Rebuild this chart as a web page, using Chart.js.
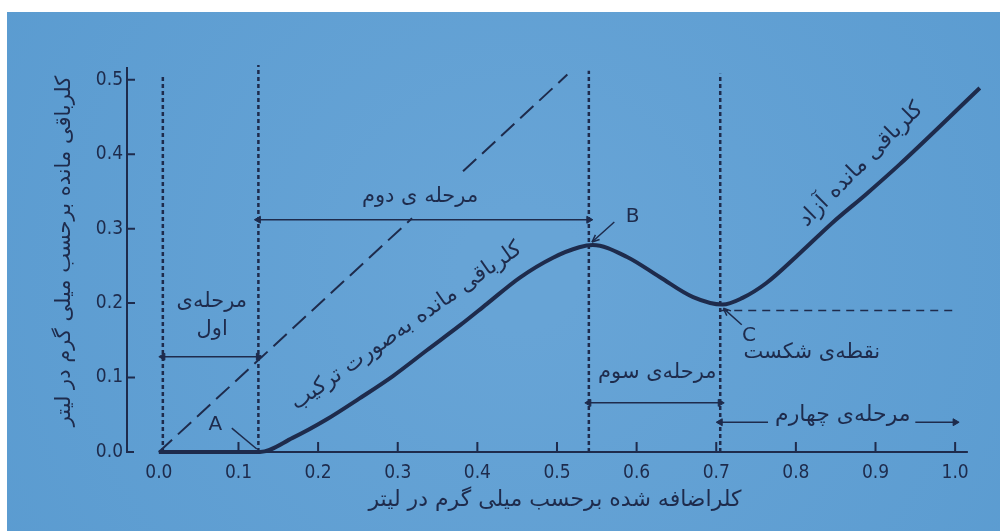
<!DOCTYPE html>
<html lang="fa">
<head>
<meta charset="utf-8">
<title>منحنی نقطه شکست کلرزنی</title>
<script src="https://cdn.jsdelivr.net/npm/chart.js@4.4.1/dist/chart.umd.min.js"></script>
<style>
    html, body { margin: 0; padding: 0; background: #fff; }
</style>
</head>
<body>
<canvas id="breakpointChart" width="1000" height="531"></canvas>
<script>
// chlorine dose (mg/l) and residual
const chlorineAdded = [0, 0.127, 0.168, 0.211, 0.252, 0.294, 0.337, 0.378, 0.412, 0.453, 0.495, 0.528, 0.545, 0.588, 0.629, 0.671, 0.708, 0.733, 0.763, 0.805, 0.846, 0.889, 0.930, 1.031];
const residualChlorine = [0, 0, 0.019, 0.044, 0.072, 0.102, 0.137, 0.170, 0.199, 0.234, 0.261, 0.275, 0.278, 0.262, 0.235, 0.208, 0.198, 0.207, 0.227, 0.267, 0.308, 0.347, 0.386, 0.489];

// dashed "no demand" line (residual = added), broken under the stage 2 label
const demandX = [0, 0.318, 0.35, 0.382, 0.513];
const demandY = [0, 0.314, null, 0.377, 0.507];

// breakpoint level, dashed to the right of C
const breakpointX = [0.705, 1.0];
const breakpointY = [0.19, 0.19];

// stage boundaries (dotted verticals) and how high they go
const stageBounds = [0.005, 0.125, 0.54, 0.705];
const stageTops = [0.507, 0.52, 0.512, 0.508];

// dimension arrows of the four stages
const stageArrowFrom = [0.005, 0.125, 0.54, 0.705, 0.95];
const stageArrowTo = [0.125, 0.54, 0.705, 0.765, 1.0];
const stageArrowY = [0.128, 0.312, 0.066, 0.040, 0.040];

const xTickValues = [0, 0.1, 0.2, 0.3, 0.4, 0.5, 0.6, 0.7, 0.8, 0.9, 1.0];
const xTickLabels = ['0.0', '0.1', '0.2', '0.3', '0.4', '0.5', '0.6', '0.7', '0.8', '0.9', '1.0'];
const yTickValues = [0, 0.1, 0.2, 0.3, 0.4, 0.5];
const yTickLabels = ['0.0', '0.1', '0.2', '0.3', '0.4', '0.5'];

const xTitle = 'کلراضافه شده برحسب میلی گرم در لیتر';
const yTitle = 'کلرباقی مانده برحسب میلی گرم در لیتر';

const INK = '#1e2b4c';
const FONT = '"DejaVu Sans", sans-serif';
const NUM_FONT = '"DejaVu Sans Condensed", "DejaVu Sans", sans-serif';

const notes = [
    { text: 'مرحله\u200cی', x: 0.0665, y: 0.2015 },
    { text: 'اول', x: 0.067, y: 0.164 },
    { text: 'مرحله ی دوم', x: 0.328, y: 0.343 },
    { text: 'مرحله\u200cی سوم', x: 0.626, y: 0.107 },
    { text: 'نقطه\u200cی شکست', x: 0.82, y: 0.134 },
    { text: 'مرحله\u200cی چهارم', x: 0.859, y: 0.049, size: 22 },
    { text: 'کلرباقی مانده به\u200cصورت ترکیب', x: 0.311, y: 0.169, rot: -35, size: 22 },
    { text: 'کلرباقی مانده آزاد', x: 0.882, y: 0.386, rot: -45, size: 22 },
    { text: 'A', x: 0.071, y: 0.036, latin: true },
    { text: 'B', x: 0.595, y: 0.316, latin: true },
    { text: 'C', x: 0.741, y: 0.156, latin: true }
];

const leaders = [
    { from: [0.0916, 0.032], to: [0.123, 0.004], head: false },
    { from: [0.572, 0.309], to: [0.544, 0.282], head: true },
    { from: [0.732, 0.171], to: [0.709, 0.193], head: true }
];

function pts(xs, ys) {
    return xs.map((x, i) => ({ x: x, y: ys[i] }));
}

const datasets = [];

datasets.push({
    label: 'کلر باقی مانده',
    data: pts(chlorineAdded, residualChlorine),
    borderColor: INK,
    borderWidth: 4,
    cubicInterpolationMode: 'monotone',
    pointRadius: 0
});

datasets.push({
    label: 'demand',
    data: pts(demandX, demandY),
    borderColor: INK,
    borderWidth: 2,
    borderDash: [18, 8],
    spanGaps: false,
    pointRadius: 0
});

datasets.push({
    label: 'breakpoint',
    data: pts(breakpointX, breakpointY),
    borderColor: INK,
    borderWidth: 1.5,
    borderDash: [8, 6],
    pointRadius: 0
});

stageBounds.forEach((x, i) => {
    datasets.push({
        label: 'stage ' + i,
        data: [{ x: x, y: 0 }, { x: x, y: stageTops[i] }],
        borderColor: INK,
        borderWidth: 2.5,
        borderDash: [4, 3],
        pointRadius: 0
    });
});

stageArrowFrom.forEach((x, i) => {
    // the 4th stage line is split round its label
    let radius = [4, 4];
    if (i === 3) radius = [4, 0];
    if (i === 4) radius = [0, 4];
    datasets.push({
        label: 'arrow ' + i,
        data: [{ x: x, y: stageArrowY[i] }, { x: stageArrowTo[i], y: stageArrowY[i] }],
        borderColor: INK,
        borderWidth: 1.5,
        pointStyle: 'triangle',
        pointRadius: radius,
        pointRotation: [-90, 90],
        pointBackgroundColor: INK,
        pointBorderColor: INK,
        pointBorderWidth: 1
    });
});

const paperPlugin = {
    id: 'paper',
    beforeDraw(chart) {
        const ctx = chart.ctx;
        ctx.save();
        ctx.fillStyle = '#ffffff';
        ctx.fillRect(0, 0, chart.width, chart.height);
        const g = ctx.createRadialGradient(520, 270, 60, 520, 270, 620);
        g.addColorStop(0, '#67a4d6');
        g.addColorStop(1, '#5a9bd0');
        ctx.fillStyle = g;
        ctx.fillRect(7, 12, chart.width - 7, chart.height - 12);
        ctx.restore();
    }
};

const axesPlugin = {
    id: 'handAxes',
    afterDatasetsDraw(chart) {
        const ctx = chart.ctx;
        const xs = chart.scales.x;
        const ys = chart.scales.y;
        const x0 = xs.getPixelForValue(-0.04);
        const y0 = ys.getPixelForValue(0);
        ctx.save();
        ctx.strokeStyle = INK;
        ctx.lineWidth = 2;
        ctx.beginPath();
        ctx.moveTo(x0, ys.getPixelForValue(0.517));
        ctx.lineTo(x0, y0);
        ctx.lineTo(x0 + 7, y0);
        ctx.moveTo(xs.getPixelForValue(0), y0);
        ctx.lineTo(xs.getPixelForValue(1.016), y0);
        yTickValues.slice(1).forEach(v => {
            const p = ys.getPixelForValue(v);
            ctx.moveTo(x0, p);
            ctx.lineTo(x0 + 8, p);
        });
        xTickValues.slice(1).forEach(v => {
            const p = xs.getPixelForValue(v);
            ctx.moveTo(p, y0);
            ctx.lineTo(p, y0 - 10);
        });
        ctx.stroke();

        // leader lines to A, B, C
        ctx.lineWidth = 1.5;
        leaders.forEach(l => {
            const ax = xs.getPixelForValue(l.from[0]), ay = ys.getPixelForValue(l.from[1]);
            const bx = xs.getPixelForValue(l.to[0]), by = ys.getPixelForValue(l.to[1]);
            ctx.beginPath();
            ctx.moveTo(ax, ay);
            ctx.lineTo(bx, by);
            ctx.stroke();
            if (l.head) {
                const a = Math.atan2(by - ay, bx - ax);
                ctx.beginPath();
                ctx.moveTo(bx, by);
                ctx.lineTo(bx - 8 * Math.cos(a - 0.4), by - 8 * Math.sin(a - 0.4));
                ctx.moveTo(bx, by);
                ctx.lineTo(bx - 8 * Math.cos(a + 0.4), by - 8 * Math.sin(a + 0.4));
                ctx.stroke();
            }
        });

        // texts
        ctx.fillStyle = INK;
        ctx.textAlign = 'center';
        ctx.textBaseline = 'middle';
        notes.forEach(n => {
            ctx.save();
            ctx.translate(xs.getPixelForValue(n.x), ys.getPixelForValue(n.y));
            if (n.rot) ctx.rotate(n.rot * Math.PI / 180);
            ctx.font = (n.latin ? 20 : (n.size || 21)) + 'px ' + FONT;
            ctx.direction = n.latin ? 'ltr' : 'rtl';
            ctx.fillText(n.text, 0, 0);
            ctx.restore();
        });
        ctx.restore();
    }
};

const ctx = document.getElementById('breakpointChart').getContext('2d');

const breakpointChart = new Chart(ctx, {
    type: 'scatter',
    data: { datasets: datasets },
    options: {
        responsive: false,
        animation: false,
        events: [],
        showLine: true,
        clip: false,
        layout: {
            padding: { left: 0, top: 50, right: 17, bottom: 0 }
        },
        scales: {
            x: {
                type: 'linear',
                min: -0.04,
                max: 1.035,
                grid: { display: false, drawTicks: false },
                border: { display: false },
                afterBuildTicks: s => { s.ticks = xTickValues.map(v => ({ value: v })); },
                afterFit: s => { s.height = 79; },
                ticks: {
                    padding: 10,
                    color: INK,
                    font: { family: NUM_FONT, size: 19 },
                    autoSkip: false,
                    maxRotation: 0,
                    callback: (v, i) => xTickLabels[i]
                },
                title: {
                    display: true,
                    text: xTitle,
                    color: INK,
                    font: { family: FONT, size: 22 },
                    padding: { top: 0, bottom: 18 }
                }
            },
            y: {
                type: 'linear',
                min: 0,
                max: 0.54,
                grid: { display: false, drawTicks: false },
                border: { display: false },
                afterBuildTicks: s => { s.ticks = yTickValues.map(v => ({ value: v })); },
                afterFit: s => { s.width = 127; },
                ticks: {
                    padding: 4,
                    color: INK,
                    font: { family: NUM_FONT, size: 19 },
                    callback: (v, i) => yTickLabels[i]
                },
                title: {
                    display: true,
                    text: yTitle,
                    color: INK,
                    font: { family: FONT, size: 21 },
                    padding: { top: 52, bottom: 0 }
                }
            }
        },
        plugins: {
            legend: { display: false },
            tooltip: { enabled: false }
        }
    },
    plugins: [paperPlugin, axesPlugin]
});
</script>
</body>
</html>
